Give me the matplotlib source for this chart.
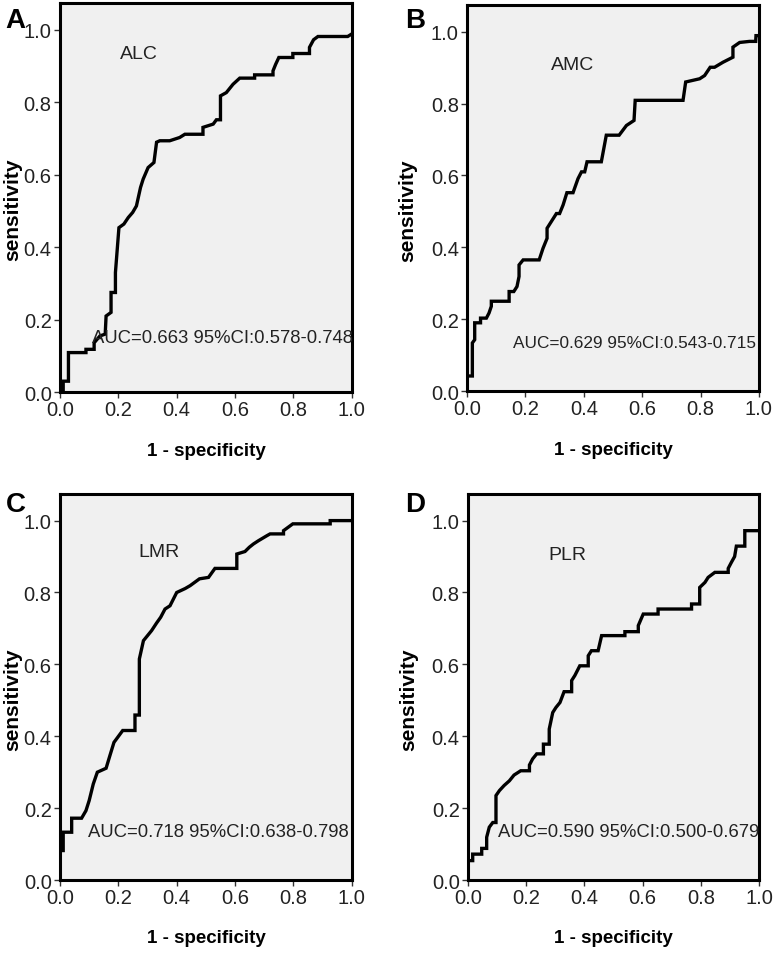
import matplotlib
matplotlib.use("Agg")
import matplotlib.pyplot as plt

# -----------------------
# ROC curve vertices (1 - specificity, sensitivity)
# -----------------------
alc_fpr = [0.0, 0.0, 0.011, 0.011, 0.029, 0.029, 0.089, 0.089, 0.117, 0.117, 0.137, 0.155,
           0.158, 0.175, 0.175, 0.19, 0.19, 0.202, 0.219, 0.234, 0.249, 0.262, 0.276,
           0.285, 0.302, 0.322, 0.331, 0.342, 0.376, 0.41, 0.428, 0.49, 0.49, 0.525,
           0.536, 0.55, 0.55, 0.57, 0.593, 0.616, 0.667, 0.667, 0.73, 0.73, 0.739, 0.75,
           0.798, 0.798, 0.855, 0.855, 0.869, 0.884, 0.986, 1.0]
alc_tpr = [0.0, 0.0, 0.0, 0.03, 0.03, 0.109, 0.109, 0.118, 0.118, 0.136, 0.155, 0.16,
           0.21, 0.22, 0.275, 0.275, 0.33, 0.454, 0.464, 0.482, 0.496, 0.514, 0.565,
           0.588, 0.62, 0.634, 0.69, 0.694, 0.694, 0.703, 0.712, 0.712, 0.731, 0.74,
           0.752, 0.752, 0.818, 0.827, 0.85, 0.867, 0.867, 0.876, 0.876, 0.887, 0.905,
           0.924, 0.924, 0.935, 0.935, 0.952, 0.973, 0.982, 0.982, 0.989]

amc_fpr = [0.0, 0.0, 0.018, 0.018, 0.026, 0.026, 0.046, 0.046, 0.066, 0.075, 0.083, 0.083,
           0.144, 0.144, 0.16, 0.171, 0.178, 0.178, 0.192, 0.247, 0.26, 0.274, 0.274,
           0.306, 0.317, 0.329, 0.342, 0.363, 0.38, 0.392, 0.403, 0.411, 0.46, 0.477,
           0.521, 0.546, 0.572, 0.576, 0.74, 0.749, 0.797, 0.814, 0.833, 0.848, 0.877,
           0.911, 0.911, 0.934, 0.968, 0.989, 0.99, 1.0]
amc_tpr = [0.0, 0.042, 0.042, 0.134, 0.143, 0.19, 0.19, 0.203, 0.203, 0.217, 0.236, 0.25,
           0.25, 0.277, 0.277, 0.291, 0.319, 0.351, 0.365, 0.365, 0.397, 0.425, 0.453,
           0.494, 0.494, 0.518, 0.552, 0.552, 0.591, 0.61, 0.61, 0.638, 0.638, 0.712,
           0.712, 0.739, 0.753, 0.809, 0.809, 0.86, 0.869, 0.878, 0.901, 0.901, 0.915,
           0.929, 0.957, 0.97, 0.973, 0.973, 0.989, 0.989]

lmr_fpr = [0.0, 0.0, 0.011, 0.011, 0.04, 0.04, 0.074, 0.089, 0.1, 0.114, 0.128, 0.158,
           0.171, 0.185, 0.215, 0.257, 0.257, 0.272, 0.272, 0.286, 0.314, 0.331, 0.345,
           0.36, 0.377, 0.4, 0.429, 0.446, 0.478, 0.509, 0.531, 0.606, 0.606, 0.634,
           0.649, 0.663, 0.68, 0.709, 0.72, 0.766, 0.766, 0.798, 0.926, 0.926, 1.0]
lmr_tpr = [0.0, 0.082, 0.082, 0.133, 0.133, 0.172, 0.172, 0.193, 0.221, 0.267, 0.3, 0.311,
           0.346, 0.383, 0.416, 0.416, 0.459, 0.459, 0.615, 0.666, 0.694, 0.715, 0.731,
           0.754, 0.763, 0.8, 0.811, 0.819, 0.838, 0.842, 0.867, 0.867, 0.907, 0.914,
           0.926, 0.935, 0.944, 0.958, 0.963, 0.963, 0.972, 0.991, 0.991, 1.0, 1.0]

plr_fpr = [0.0, 0.0, 0.016, 0.016, 0.047, 0.047, 0.064, 0.064, 0.073, 0.085, 0.096, 0.096,
           0.108, 0.124, 0.142, 0.158, 0.181, 0.211, 0.211, 0.222, 0.236, 0.259, 0.259,
           0.279, 0.279, 0.291, 0.302, 0.316, 0.33, 0.356, 0.356, 0.367, 0.384, 0.413,
           0.413, 0.424, 0.447, 0.459, 0.539, 0.539, 0.585, 0.585, 0.602, 0.653, 0.653,
           0.768, 0.768, 0.796, 0.796, 0.814, 0.825, 0.848, 0.894, 0.894, 0.905, 0.916,
           0.922, 0.951, 0.951, 1.0]
plr_tpr = [0.0, 0.054, 0.054, 0.072, 0.072, 0.088, 0.088, 0.119, 0.147, 0.16, 0.16, 0.235,
           0.249, 0.263, 0.276, 0.292, 0.304, 0.304, 0.32, 0.337, 0.351, 0.351, 0.378,
           0.378, 0.42, 0.466, 0.48, 0.494, 0.524, 0.524, 0.555, 0.569, 0.596, 0.596,
           0.624, 0.638, 0.638, 0.68, 0.68, 0.691, 0.691, 0.708, 0.74, 0.74, 0.754,
           0.754, 0.768, 0.768, 0.814, 0.828, 0.842, 0.856, 0.856, 0.867, 0.884, 0.9,
           0.929, 0.929, 0.972, 0.972]

panel_letters = ["A", "B", "C", "D"]
markers = ["ALC", "AMC", "LMR", "PLR"]
auc_labels = ["AUC=0.663 95%CI:0.578-0.748",
              "AUC=0.629 95%CI:0.543-0.715",
              "AUC=0.718 95%CI:0.638-0.798",
              "AUC=0.590 95%CI:0.500-0.679"]
curves = [(alc_fpr, alc_tpr), (amc_fpr, amc_tpr), (lmr_fpr, lmr_tpr), (plr_fpr, plr_tpr)]
tick_vals = [0.0, 0.2, 0.4, 0.6, 0.8, 1.0]
tick_text = ["0.0", "0.2", "0.4", "0.6", "0.8", "1.0"]

# text placement (axes data coords)
name_pos = [(0.27, 0.935), (0.36, 0.91), (0.34, 0.915), (0.34, 0.905)]
auc_pos = [(0.11, 0.152), (0.158, 0.135), (0.096, 0.134), (0.104, 0.134)]
auc_size = [13.3, 12.4, 13.3, 13.3]

# axes rectangles in figure fraction
rects = [[0.0775, 0.588, 0.377, 0.408],
         [0.6035, 0.589, 0.377, 0.405],
         [0.0775, 0.0765, 0.377, 0.405],
         [0.6047, 0.0765, 0.376, 0.405]]
letter_pos = [(0.007, 0.992), (0.524, 0.992), (0.007, 0.484), (0.524, 0.484)]
ylabel_x = [-0.13, -0.17, -0.13, -0.17]

font = ["Liberation Sans", "DejaVu Sans"]

fig = plt.figure(figsize=(7.74, 9.54), dpi=100)

for i in range(4):
    ax = fig.add_axes(rects[i])
    ax.set_facecolor("#f0f0f0")
    fpr, tpr = curves[i]
    ax.plot(fpr, tpr, color="black", lw=2.4, solid_joinstyle="miter")

    ax.set_xlim(0, 1.0)
    ax.set_ylim(0, 1.075)
    ax.set_xticks(tick_vals)
    ax.set_yticks(tick_vals)
    ax.set_xticklabels(tick_text)
    ax.set_yticklabels(tick_text)
    for lab in ax.get_xticklabels() + ax.get_yticklabels():
        lab.set_family(font)
        lab.set_fontsize(14.5)
        lab.set_color("#222222")
    ax.tick_params(direction="out", length=4, width=1, pad=2, color="#333333")
    for sp in ax.spines.values():
        sp.set_linewidth(2.2)
        sp.set_color("black")

    ax.set_xlabel("1 - specificity", family=font, fontsize=13.5, fontweight="bold")
    ax.xaxis.set_label_coords(0.5, -0.128)
    ax.set_ylabel("sensitivity", family=font, fontsize=15, fontweight="bold")
    ax.yaxis.set_label_coords(ylabel_x[i], 0.47)

    ax.text(name_pos[i][0], name_pos[i][1], markers[i], family=font, fontsize=14,
            ha="center", va="center", color="#222222")
    ax.text(auc_pos[i][0], auc_pos[i][1], auc_labels[i], family=font, fontsize=auc_size[i],
            ha="left", va="center", color="#222222")

    fig.text(letter_pos[i][0], letter_pos[i][1], panel_letters[i], family=font,
             fontsize=20, fontweight="bold", ha="left", va="top")

fig.savefig("out.png", dpi=100)
